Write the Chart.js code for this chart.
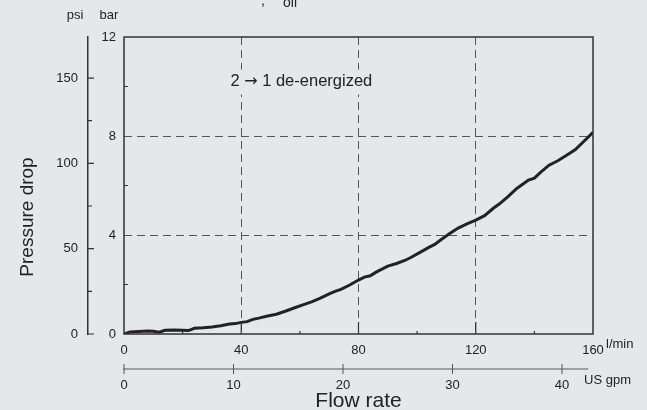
<!DOCTYPE html>
<html>
<head>
<meta charset="utf-8">
<script src="https://cdn.jsdelivr.net/npm/chart.js@4.4.1/dist/chart.umd.min.js"></script>
<style>
  html, body { margin: 0; padding: 0; background: #e6e7e9; }
</style>
</head>
<body>
<canvas id="dropChart" width="647" height="410"></canvas>
<script>
// flow rate in l/min and measured pressure drop in bar
const flowLpm = [0, 2, 5, 8, 10, 12, 14, 17, 20, 22, 24, 27, 30, 33, 36, 38, 40, 42, 44, 46, 49,
  52, 55, 58, 61, 64, 67, 70, 72, 74, 77, 80, 82, 84, 86, 88, 90, 93, 96, 98, 101, 104, 106, 108,
  111, 114, 117, 120, 123, 126, 128, 131, 134, 136, 138, 140, 142, 145, 148, 151, 154, 157, 160];
const dropBar = [0.0, 0.08, 0.10, 0.12, 0.11, 0.07, 0.15, 0.16, 0.15, 0.14, 0.23, 0.25, 0.28, 0.33,
  0.40, 0.42, 0.47, 0.50, 0.59, 0.64, 0.73, 0.80, 0.92, 1.05, 1.18, 1.30, 1.45, 1.62, 1.72, 1.80,
  1.98, 2.18, 2.30, 2.35, 2.50, 2.62, 2.74, 2.85, 2.98, 3.10, 3.30, 3.50, 3.62, 3.80, 4.05, 4.28,
  4.45, 4.60, 4.78, 5.08, 5.25, 5.55, 5.88, 6.05, 6.22, 6.30, 6.52, 6.82, 7.00, 7.22, 7.45, 7.80, 8.15];

const lpmMajor = [40, 80, 120];
const lpmMinor = [20, 60, 100, 140];
const barMajor = [4, 8];
const barMinor = [2, 6, 10];
const psiMajor = [0, 50, 100, 150];
const psiMinor = [25, 75, 125];
const gpmTicks = [0, 10, 20, 30, 40];

const PSI_PER_BAR = 14.5038;
const FONT = "'Liberation Sans', Arial, sans-serif";
const INK = '#222';
const BG = '#e6e7e9';

const points = flowLpm.map((f, i) => ({ x: f, y: dropBar[i] }));

const dashColor = (vals) => (c) => vals.includes(c.tick.value) ? '#555' : 'rgba(0,0,0,0)';

const decor = {
  id: 'decor',
  beforeDraw(chart) {
    const ctx = chart.ctx;
    ctx.save();
    ctx.fillStyle = BG;
    ctx.fillRect(0, 0, chart.width, chart.height);
    ctx.restore();
  },
  afterDraw(chart) {
    const { ctx, chartArea: a, scales } = chart;
    const x = scales.x, y = scales.y, psi = scales.psi, gpm = scales.gpm;
    ctx.save();

    // label over the grid, with its own background; the arrow comes from DejaVu
    const ly = y.getPixelForValue(10.2);
    const parts = [
      ['2 ', '16.5px ' + FONT],
      ['\u2192', '16px "DejaVu Sans"'],
      [' 1 de-energized', '16.5px ' + FONT]
    ];
    let lw = 0;
    parts.forEach(p => { ctx.font = p[1]; lw += ctx.measureText(p[0]).width; });
    let lx = x.getPixelForValue(60.5) - lw / 2;
    ctx.fillStyle = BG;
    ctx.fillRect(lx - 5, ly - 12, lw + 10, 25);
    ctx.fillStyle = INK;
    ctx.textAlign = 'left';
    ctx.textBaseline = 'middle';
    parts.forEach(p => { ctx.font = p[1]; ctx.fillText(p[0], lx, ly); lx += ctx.measureText(p[0]).width; });

    // frame
    ctx.strokeStyle = '#333';
    ctx.lineWidth = 1.5;
    ctx.strokeRect(a.left, a.top, a.right - a.left, a.bottom - a.top);

    ctx.lineWidth = 1.2;
    ctx.beginPath();
    lpmMajor.forEach(v => { const px = x.getPixelForValue(v); ctx.moveTo(px, a.bottom); ctx.lineTo(px, a.bottom - 12); });
    lpmMinor.forEach(v => { const px = x.getPixelForValue(v); ctx.moveTo(px, a.bottom); ctx.lineTo(px, a.bottom - 3); });
    barMinor.forEach(v => { const py = y.getPixelForValue(v); ctx.moveTo(a.left, py); ctx.lineTo(a.left + 4, py); });
    // psi ticks point toward the plot
    const pl = psi.right;
    psiMajor.forEach(v => { const py = psi.getPixelForValue(v); ctx.moveTo(pl, py); ctx.lineTo(pl + 6, py); });
    psiMinor.forEach(v => { const py = psi.getPixelForValue(v); ctx.moveTo(pl, py); ctx.lineTo(pl + 4, py); });
    ctx.stroke();

    // US gpm axis line
    const gy = gpm.top;
    ctx.strokeStyle = '#888';
    ctx.lineWidth = 1.5;
    ctx.beginPath();
    ctx.moveTo(gpm.getPixelForValue(0) - 1, gy);
    ctx.lineTo(gpm.getPixelForValue(42.4), gy);
    ctx.stroke();
    ctx.strokeStyle = '#555';
    ctx.lineWidth = 1;
    ctx.beginPath();
    gpmTicks.forEach(v => { const px = gpm.getPixelForValue(v); ctx.moveTo(px, gy - 5); ctx.lineTo(px, gy + 5); });
    ctx.stroke();

    // texts
    ctx.fillStyle = INK;
    ctx.textBaseline = 'middle';
    ctx.textAlign = 'center';
    ctx.font = '13px ' + FONT;
    ctx.fillText('psi', 75, 15);
    ctx.fillText('bar', 109, 15);
    ctx.textAlign = 'left';
    ctx.fillText('l/min', 606, 344);
    ctx.fillText('US gpm', 584, 380);
    ctx.font = '14px ' + FONT;
    ctx.fillText(',', 261, 1);
    ctx.fillText('oil', 283, 3);

    ctx.textAlign = 'center';
    ctx.font = '21px ' + FONT;
    ctx.fillText('Flow rate', (a.left + a.right) / 2, 401);
    ctx.save();
    ctx.translate(28, 217);
    ctx.rotate(-Math.PI / 2);
    ctx.font = '19px ' + FONT;
    ctx.fillText('Pressure drop', 0, 0);
    ctx.restore();
    ctx.restore();
  }
};

const tickFont = { family: FONT, size: 13 };

new Chart(document.getElementById('dropChart'), {
  type: 'line',
  data: {
    datasets: [{
      data: points,
      borderColor: INK,
      borderWidth: 3,
      pointRadius: 0,
      tension: 0,
      fill: false
    }]
  },
  options: {
    responsive: false,
    animation: false,
    events: [],
    layout: { padding: { top: 37, right: 54, left: 0, bottom: 0 } },
    plugins: { legend: { display: false }, tooltip: { enabled: false } },
    scales: {
      x: {
        type: 'linear', position: 'bottom', weight: 0,
        min: 0, max: 160,
        afterFit: (s) => { s.height = 35; },
        ticks: { stepSize: 40, font: tickFont, color: INK, padding: 9 },
        grid: { drawTicks: false, color: dashColor(lpmMajor), lineWidth: 1 },
        border: { display: false, dash: [8, 5] }
      },
      gpm: {
        type: 'linear', position: 'bottom', weight: 1,
        min: 0, max: 42.83,
        afterFit: (s) => { s.height = 41; },
        ticks: { stepSize: 10, includeBounds: false, font: tickFont, color: INK, padding: 9 },
        grid: { drawOnChartArea: false, drawTicks: false },
        border: { display: false }
      },
      y: {
        type: 'linear', position: 'left', weight: 0,
        min: 0, max: 12,
        afterFit: (s) => { s.width = 36; },
        ticks: { stepSize: 4, font: tickFont, color: INK, padding: 8 },
        grid: { drawTicks: false, color: dashColor(barMajor), lineWidth: 1 },
        border: { display: false, dash: [8, 5] }
      },
      psi: {
        type: 'linear', position: 'left', weight: 1,
        min: 0, max: 12 * PSI_PER_BAR,
        afterFit: (s) => { s.width = 88; },
        ticks: { stepSize: 50, includeBounds: false, font: tickFont, color: INK, padding: 10 },
        grid: { drawOnChartArea: false, drawTicks: false },
        border: { display: true, color: '#333', width: 1.5 }
      }
    }
  },
  plugins: [decor]
});
</script>
</body>
</html>
